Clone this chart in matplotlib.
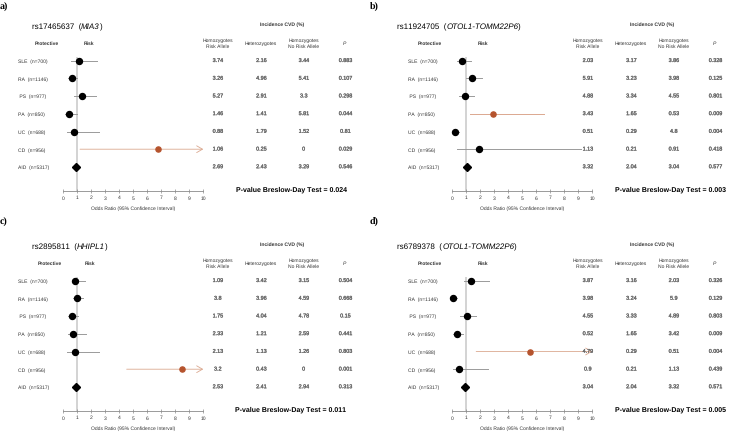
import matplotlib
matplotlib.use("Agg")
import matplotlib.pyplot as plt
import matplotlib.patheffects as pe
from matplotlib.transforms import blended_transform_factory

plt.rcParams['font.family'] = ['Liberation Sans', 'DejaVu Sans']
plt.rcParams['text.hinting'] = 'no_hinting'
plt.rcParams['text.hinting_factor'] = 1

W, H = 740, 435

# ---- data -------------------------------------------------------------
groups = ['SLE  (n=700)', 'RA  (n=1146)', ' PS  (n=977)', 'PA  (n=850)',
          'UC  (n=688)', 'CD  (n=956)', 'AID  (n=5317)']

snps = ['rs17465637', 'rs11924705', 'rs2895811', 'rs6789378']
genes = ['MIA3', 'OTOL1-TOMM22P6', 'HHIPL1', 'OTOL1-TOMM22P6']
panel_tags = ['a)', 'b)', 'c)', 'd)']

# odds ratio, lower and upper CI (upper >= 10 drawn as arrow)
or_a = [1.18, 0.64, 1.35, 0.47, 0.80, 6.76, 0.95]
lo_a = [0.59, 0.40, 0.80, 0.16, 0.33, 1.23, 0.80]
hi_a = [2.42, 1.05, 2.40, 1.00, 2.56, 10.0, 1.12]

or_b = [0.76, 1.43, 0.97, 2.93, 0.24, 1.95, 1.09]
lo_b = [0.40, 1.00, 0.55, 1.31, 0.03, 0.40, 0.92]
hi_b = [1.36, 2.14, 1.60, 6.54, 0.55, 9.21, 1.25]

or_c = [0.88, 1.00, 0.66, 0.76, 0.85, 8.51, 0.92]
lo_c = [0.64, 0.71, 0.40, 0.40, 0.33, 4.55, 0.80]
hi_c = [1.59, 1.47, 1.11, 1.66, 2.61, 10.0, 1.05]

or_d = [1.36, 0.07, 1.09, 0.36, 5.59, 0.55, 0.95]
lo_d = [0.88, 0.00, 0.60, 0.12, 1.74, 0.12, 0.80]
hi_d = [2.62, 0.40, 1.74, 0.79, 10.0, 2.55, 1.10]

highlight = [5, 3, 5, 4]

# incidence CVD (%) tables: hom risk, het, hom no risk, P
tab_a = [['3.74', '2.16', '3.44', '0.883'], ['3.26', '4.96', '5.41', '0.107'],
         ['5.27', '2.91', '3.3', '0.298'], ['1.46', '1.41', '5.81', '0.044'],
         ['0.88', '1.79', '1.52', '0.81'], ['1.06', '0.25', '0', '0.029'],
         ['2.69', '2.43', '3.29', '0.546']]
tab_b = [['2.03', '3.17', '3.86', '0.328'], ['5.91', '3.23', '3.98', '0.125'],
         ['4.88', '3.34', '4.55', '0.801'], ['3.43', '1.65', '0.53', '0.009'],
         ['0.51', '0.29', '4.8', '0.004'], ['1.13', '0.21', '0.91', '0.418'],
         ['3.32', '2.04', '3.04', '0.577']]
tab_c = [['1.09', '3.42', '3.15', '0.504'], ['3.8', '3.96', '4.59', '0.668'],
         ['1.75', '4.04', '4.78', '0.15'], ['2.33', '1.21', '2.59', '0.441'],
         ['2.13', '1.13', '1.26', '0.803'], ['3.2', '0.43', '0', '0.001'],
         ['2.53', '2.41', '2.94', '0.313']]
tab_d = [['3.87', '3.16', '2.03', '0.326'], ['3.98', '3.24', '5.9', '0.129'],
         ['4.55', '3.33', '4.89', '0.803'], ['0.52', '1.65', '3.42', '0.009'],
         ['4.79', '0.29', '0.51', '0.004'], ['0.9', '0.21', '1.13', '0.439'],
         ['3.04', '2.04', '3.32', '0.571']]
breslow = ['0.024', '0.003', '0.011', '0.005']

col_heads = ['Homozygotes\nRisk Allele', 'Heterozygotes',
             'Homozygotes\nNo Risk Allele', 'P']
xticks = list(range(11))

ors = [or_a, or_b, or_c, or_d]
los = [lo_a, lo_b, lo_c, lo_d]
his = [hi_a, hi_b, hi_c, hi_d]
tabs = [tab_a, tab_b, tab_c, tab_d]

# ---- layout (pixels) --------------------------------------------------
origins = [(0, 0), (370, 0), (0, 220), (370, 220)]
tag_y = [7, 7, 222, 222]
axis_x0 = [62.7, 81.7, 62.7, 81.7]      # pixel of OR=0, relative to panel
title_x = [31.7, 26.7, 31.7, 27.3]
lab_x = [18.3, 38.3, 18.3, 38.3]
prot_x = [46.5, 59.5, 50.0, 60.0]
risk_x = [89.0, 113.3, 90.0, 113.3]
pval_x = [236, 245, 235, 245]
col_x = [217.5, 261.0, 303.5, 345.0]

ORANGE = '#b5532d'
ORANGE_L = '#dba88f'
GREY_CI = '#9a9a9a'
TXT = '#333333'
NUM = '#6a6a6a'
thick = [pe.withStroke(linewidth=0.22, foreground=NUM)]

px_unit = 14.06
row0, drow, axis_y = 61.7, 17.7, 191.7
top_y = 52.0

fig = plt.figure(figsize=(W / 100, H / 100), dpi=100)


def fx(x):
    return x / W


def fy(y):
    return 1 - y / H


for k in range(4):
    ox, oy = origins[k]
    x0 = ox + axis_x0[k]
    ybot = (axis_y - row0) / drow
    ytop = (top_y - row0) / drow
    ax = fig.add_axes([fx(x0), fy(oy + axis_y), 10 * px_unit / W,
                       (axis_y - top_y) / H])
    ax.set_xlim(0, 10)
    ax.set_ylim(ybot, ytop)
    ax.patch.set_alpha(0)
    for s in ['top', 'right', 'left']:
        ax.spines[s].set_visible(False)
    ax.spines['bottom'].set_color('#8a8a8a')
    ax.spines['bottom'].set_linewidth(0.6)
    ax.set_yticks([])
    ax.set_xticks(xticks)
    ax.tick_params(axis='x', direction='inout', length=3, width=0.5,
                   colors='#8a8a8a', labelcolor=TXT, labelsize=3.8, pad=1.5)
    ax.set_xlabel('Odds Ratio (95% Confidence Interval)', fontsize=3.7,
                  color=TXT, labelpad=4)

    # reference line at OR = 1
    ax.vlines(1, -0.2, ybot, color='#c8c8c8', lw=1.1, zorder=1)

    ys = list(range(len(groups)))
    for i in ys:
        hl = (i == highlight[k])
        lc = ORANGE_L if hl else GREY_CI
        if his[k][i] >= 10:
            ax.annotate('', xy=(his[k][i], i), xytext=(los[k][i], i),
                        arrowprops=dict(arrowstyle='->,head_length=0.6,head_width=0.35',
                                        color=lc, lw=0.6, shrinkA=0, shrinkB=0,
                                        mutation_scale=7), zorder=2)
        else:
            ax.plot([los[k][i], his[k][i]], [i, i], color=lc, lw=0.7,
                    zorder=2, clip_on=False)
        if i == len(groups) - 1:
            ax.plot(ors[k][i], i, marker='D', color='black', ms=3.6,
                    zorder=3, clip_on=False)
        elif hl:
            ax.plot(ors[k][i], i, marker='o', color=ORANGE, ms=3.7,
                    zorder=3, clip_on=False)
        else:
            ax.plot(ors[k][i], i, marker='o', color='black', ms=4.3,
                    zorder=3, clip_on=False)

    # row labels and table values aligned with the rows
    tr = blended_transform_factory(fig.transFigure, ax.transData)
    for i in ys:
        ax.text(fx(ox + lab_x[k]), i, groups[i], transform=tr, fontsize=3.8,
                color=TXT, ha='left', va='center')
        for j in range(4):
            ax.text(fx(ox + col_x[j]), i, tabs[k][i][j], transform=tr,
                    fontsize=3.9, color=NUM, ha='center', va='center',
                    path_effects=thick)

    # headers
    fig.text(fx(ox), fy(tag_y[k]), panel_tags[k], family='Liberation Serif',
             fontweight='bold', fontsize=7, ha='left', va='center')
    t1 = fig.text(fx(ox + title_x[k]), fy(oy + 27), snps[k] + '  (',
                  fontsize=6, ha='left', va='center')
    t2 = ax.annotate(genes[k], xy=(1, 0), xycoords=t1, fontsize=6,
                     style='italic', ha='left', va='bottom')
    ax.annotate(')', xy=(1, 0), xycoords=t2, fontsize=6, ha='left',
                va='bottom')
    fig.text(fx(ox + prot_x[k]), fy(oy + 44), 'Protective', fontsize=3.9,
             fontweight='bold', color=TXT, ha='center', va='center')
    fig.text(fx(ox + risk_x[k]), fy(oy + 44), 'Risk', fontsize=3.9,
             fontweight='bold', color=TXT, ha='center', va='center')
    fig.text(fx(ox + 281.7), fy(oy + 25), 'Incidence CVD (%)', fontsize=3.9,
             fontweight='bold', color=TXT, ha='center', va='center')
    for j in range(4):
        fig.text(fx(ox + col_x[j]), fy(oy + 44), col_heads[j], fontsize=3.7,
                 color=TXT, ha='center', va='center', linespacing=1.3,
                 style='italic' if j == 3 else 'normal')
    fig.text(fx(ox + pval_x[k]), fy(oy + 190),
             'P-value Breslow-Day Test = ' + breslow[k], fontsize=5.1,
             fontweight='bold', ha='left', va='center')

fig.savefig('out.png', dpi=100)
